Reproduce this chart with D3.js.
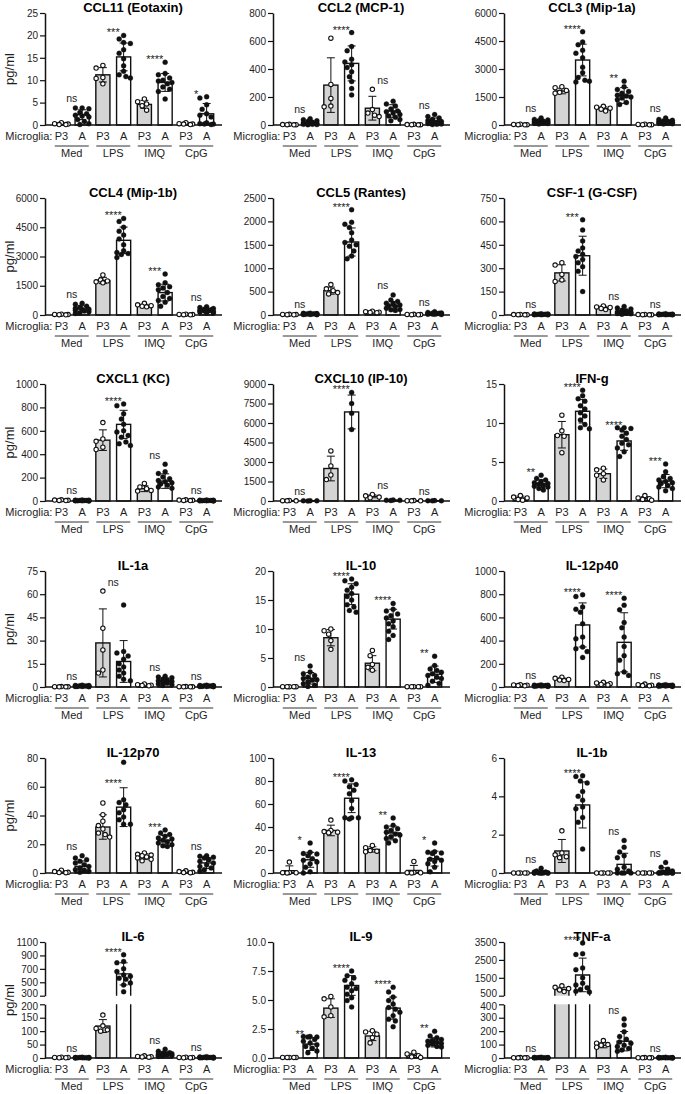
<!DOCTYPE html>
<html><head><meta charset="utf-8">
<script src="https://cdn.jsdelivr.net/npm/d3@7"></script>
<style>
body{margin:0;background:#fff;}
text{font-family:"Liberation Sans",Arial,sans-serif;}
</style></head><body>
<svg id="c" width="685" height="1094"></svg>
<script>
// ---------------- DATA ----------------
const groups = ["Med","LPS","IMQ","CpG"];
const cells = ["P3","A"];
const titles = ["CCL11 (Eotaxin)","CCL2 (MCP-1)","CCL3 (Mip-1a)","CCL4 (Mip-1b)","CCL5 (Rantes)","CSF-1 (G-CSF)",
  "CXCL1 (KC)","CXCL10 (IP-10)","IFN-g","IL-1a","IL-10","IL-12p40","IL-12p70","IL-13","IL-1b","IL-6","IL-9","TNF-a"];
const yTicks = [[0,5,10,15,20,25],[0,200,400,600,800],[0,1500,3000,4500,6000],[0,1500,3000,4500,6000],
  [0,500,1000,1500,2000,2500],[0,150,300,450,600,750],[0,200,400,600,800,1000],[0,1500,3000,4500,6000,7500,9000],
  [0,5,10,15],[0,15,30,45,60,75],[0,5,10,15,20],[0,200,400,600,800,1000],[0,20,40,60,80],[0,20,40,60,80,100],
  [0,2,4,6],[0,50,100,150,200],[0,2.5,5,7.5,10],[0,100,200,300,400]];
// upper segment ticks for broken axes (IL-6, TNF-a)
const yTicksUpper = {15:[300,500,700,900,1100], 17:[500,1500,2500,3500]};
const sigLabels = [["ns","***","****","*"],["ns","****","ns","ns"],["ns","****","**","ns"],["ns","****","***","ns"],
  ["ns","****","ns","ns"],["ns","***","ns","ns"],["ns","****","ns","ns"],["ns","****","ns","ns"],["**","****","****","***"],
  ["ns","ns","ns","ns"],["ns","****","****","**"],["ns","****","****","ns"],["ns","****","***","ns"],["*","****","**","*"],
  ["ns","****","ns","ns"],["ns","****","ns","ns"],["**","****","****","**"],["ns","****","ns","ns"]];
// label height (data units) where the label sits below an outlier: panel -> {group: value}
const sigAnchor = {12:{1:62}};
// bar means and SDs (order: Med P3, Med A, LPS P3, LPS A, IMQ P3, IMQ A, CpG P3, CpG A)
const means = [[0.25,2.3,11.2,15.2,4.6,9.5,0.3,2.5],[3,17,285,440,120,100,3,28],[20,180,1820,3480,880,1580,20,160],
  [25,310,1770,3830,480,1150,25,240],[10,22,520,1560,62,195,10,30],[2,4,270,380,47,22,2,4],[6,4,520,655,105,170,6,4],
  [22,14,2500,6850,360,57,19,19],[0.38,2.2,8.5,11.5,3.5,7.7,0.3,2.55],[0.2,0.6,28.5,16.5,1.3,3.8,0.2,0.6],
  [0.05,1.5,8.5,16,4.1,11.7,0.05,2.2],[15,11,65,535,28,385,16,12],[0.8,4.6,32,45.8,11.5,22.7,0.7,7],
  [2,11.5,37,65,20.5,34.8,2.2,12.5],[0,0.04,1.15,3.55,0,0.45,0,0.1],[2,1.2,119,625,5,15.5,2,2],
  [0.05,1.2,4.3,6.25,1.9,4.3,0.22,1.35],[2,2,850,1660,95,125,2,2]];
const sds = [[0.2,1.1,1.6,3.1,0.9,2.0,0.2,2.3],[2,14,195,125,85,45,2,22],[15,100,150,850,90,420,15,90],
  [15,160,160,680,70,430,15,100],[4,10,75,300,12,95,4,17],[1,2,52,125,9,15,1,2],[2,2,88,120,25,62,2,2],
  [13,8,950,1300,110,17,9,9],[0.25,0.5,1.7,1.5,0.6,1.2,0.25,0.85],[0.1,0.3,22,13.5,0.5,1.9,0.1,0.3],
  [0.02,1.0,1.4,1.8,1.3,1.7,0.02,1.4],[4,4,12,190,9,255,6,4],[0.7,3.8,8.5,13.5,1.9,3.4,0.6,3.8],
  [4.2,6.5,4.6,12.5,2.3,6,4.4,6.5],[0,0.08,0.6,1.2,0,0.58,0,0.17],[1,0.8,24,165,2,7.5,1,1.5],
  [0.02,0.55,0.8,0.85,0.4,0.95,0.18,0.4],[1,1.5,120,940,19,72,1,1.5]];
// individual points per panel
const ptsCCL11 = [[0.5,0.3,0.2,0.1,0.1],[3.8,3.8,3.6,2.8,2.5,2.2,2.0,1.8,1.2,0.8,0.3,0.1],[13.3,12.7,10.6,10.4,9.2],
  [20,19.2,18.4,18.2,16.8,16,14.8,13.2,12,11.2,10.8,10.5],[5.8,5.2,4.7,4.3,3.3],[14,11.5,11.2,10.5,10,9.8,9.5,9.2,8.5,8,7.5,5.8],
  [0.5,0.3,0.2,0.2,0.1],[6.3,6,4.5,3.5,2.5,2.2,1.8,0.5,0.3,0.2,0.2,0.1]];
const ptsCCL2 = [[5,3,2,2,1],[45,38,30,25,20,15,12,8,5,5,3,2],[620,290,190,135,130],
  [660,560,530,470,450,430,410,380,345,310,260,215],[255,110,85,70,60],[170,150,135,115,100,95,85,75,65,55,40,30],
  [5,3,2,2,1],[75,60,50,40,30,25,20,15,10,8,5,3]];
const ptsCCL3 = [[40,30,20,15,10],[380,300,270,230,200,180,160,140,120,100,80,60],[2050,2000,1850,1750,1700],
  [5000,4450,4300,4000,3850,3600,3100,2800,2550,2400,2350,2300],[1000,950,900,850,750],
  [2350,2050,1900,1800,1700,1600,1550,1500,1450,1350,1200,1100],[40,30,20,15,10],[380,300,250,220,200,170,150,130,110,90,70,50]];
const ptsCCL4 = [[40,30,20,15,10],[600,550,450,400,350,300,280,250,200,170,120,80],[2050,1800,1750,1700,1650],
  [4950,4800,4500,4300,4100,3900,3600,3300,3200,3150,3100,2950],[600,520,480,450,420],
  [2100,1650,1550,1450,1380,1300,1150,950,850,750,650,450],[40,30,20,15,10],[420,380,330,300,270,240,220,200,180,150,120,100]];
const ptsCCL5 = [[15,12,10,8,5],[40,35,30,28,25,22,20,18,15,12,10,8],[650,560,520,480,450],
  [2250,1980,1940,1870,1760,1600,1550,1500,1470,1370,1260,1200],[80,70,60,55,50],
  [430,320,290,250,240,215,195,180,145,120,110,95],[15,12,10,8,5],[70,55,45,40,35,30,28,25,20,18,15,10]];
const ptsCSF1 = [[4,3,2,2,1],[8,7,6,5,5,4,4,3,3,2,2,1],[335,320,260,225,215],
  [610,545,475,430,410,390,375,355,335,310,280,150],[58,52,48,42,35],[55,45,38,30,25,20,18,15,12,10,8,5],
  [4,3,2,2,1],[8,6,5,5,4,4,3,3,3,2,2,1]];
const ptsCXCL1 = [[10,8,6,5,4],[8,7,6,5,5,4,4,3,3,2,2,1],[670,530,510,460,440],
  [830,815,745,700,655,600,590,560,545,505,490,475],[150,120,105,90,85],[315,250,235,205,190,175,165,155,145,135,120,110],
  [10,8,6,5,4],[8,7,6,5,5,4,4,3,3,2,2,1]];
const ptsCXCL10 = [[40,25,15,10],[25,15,10,5],[3850,2700,2000,1650],[8350,7500,6750,5500],[500,400,300,250],
  [80,60,50,40],[30,20,15,10],[30,20,15,10]];
const ptsIFNg = [[0.7,0.5,0.4,0.2,0.1],[3.3,2.9,2.7,2.5,2.35,2.25,2.15,2.0,1.9,1.8,1.6,1.4],[11,9,8.4,8.3,6.2],
  [14.2,13.5,13.1,12.8,12.2,11.8,11.3,10.9,10.4,9.8,9.4,9.25],[4.2,4.0,3.5,3.3,2.7],
  [9.4,9.4,9.3,9.1,8.7,8.3,7.9,7.4,7.2,6.8,6.3,5.7],[0.7,0.4,0.3,0.2,0.1],[4.75,3.75,3.1,2.9,2.7,2.5,2.35,2.25,2.0,1.8,1.6,1.3]];
const ptsIL1a = [[0.3,0.2,0.1,0.1,0.1],[1.2,1.0,0.9,0.8,0.7,0.6,0.6,0.5,0.4,0.3,0.3,0.2],[62,38,24,11,9],
  [53,23,22,20,18,15,13,11,9,7,5,4],[2,1.5,1.2,1,0.8],[7,6.5,6,5,4.5,4,3.5,3,2.5,2,1.5,1],
  [0.3,0.2,0.1,0.1,0.1],[1.2,1.0,0.9,0.8,0.7,0.6,0.6,0.5,0.4,0.3,0.3,0.2]];
const ptsIL10 = [[0.05,0.05,0.05,0.05,0.05],[3.6,2.6,2.3,2.0,1.7,1.45,1.25,1.15,0.85,0.55,0.3,0.1],[10,9.7,9.1,8,6.5],
  [18.6,18.3,17.8,17.2,16.7,16.1,15.6,15.0,14.2,13.8,13.2,12.9],[6.3,5.4,3.9,3.4,2.9],
  [14.4,13.4,13.1,12.6,12.3,11.9,11.4,10.9,10.4,9.6,8.9,8.2],[0.05,0.05,0.05,0.05,0.05],
  [5.3,3.7,3.1,2.85,2.55,2.3,2.0,1.7,1.45,1.0,0.6,0.3]];
const ptsIL12p40 = [[20,18,15,12,10],[18,16,15,14,12,12,10,10,8,8,6,5],[85,75,65,60,55],
  [795,780,690,670,645,545,430,415,345,330,305,255],[40,35,28,22,18],[765,705,665,555,510,430,350,270,230,130,115,100],
  [25,20,15,12,10],[20,18,16,15,14,12,12,10,10,8,6,5]];
const ptsIL12p70 = [[2,1,0.5,0.3,0.2],[12,10.4,9.3,8.1,7,5.8,4.6,3.5,2.3,1.9,1.2,0.5],[48.7,40.6,36,33,30.6,27.8,26.7,25],
  [77,51,49,47.5,44,42,39,37,34,34],[13.9,13,12.5,12,11.2,10.5,9.5,8.5],
  [30,27.8,26.7,25.5,24.3,23.7,22.7,21.8,20.9,19.7,19,18.5],[1.5,1,0.5,0.3,0.2],[12,11.6,11,10.4,9.3,8.1,7,5.8,4.6,3.5,2.3,1.2]];
const ptsIL13 = [[9.5,0.5,0.3,0.2,0.1],[26,18,17,16.5,15,12.5,11,9.5,8,5,1,0],[46,37,36,35.5,35],
  [81,80,77,75,72,69,63,56,48,48,48,47],[24,22,19.5,19,18.5],[47.8,41.5,40,38.5,37,35.5,34,33,31.5,30,28,26],
  [10,0.5,0.3,0.2,0.1],[26,18.5,18,17.5,17,13,12,11,10,8,5,1]];
const ptsIL1b = [[0,0,0,0,0],[0.25,0.1,0.05,0.05,0,0,0,0,0,0,0,0],[2.2,1.05,0.95,0.85,0.8],
  [5.07,5.04,4.8,4.7,4.25,4.0,3.8,3.45,3.35,2.9,2.65,1.25],[0,0,0,0,0],[1.7,1.35,1.1,0.9,0.8,0.3,0.2,0.1,0,0,0,0],
  [0,0,0,0,0],[0.55,0.3,0.2,0.1,0.05,0,0,0,0,0,0,0]];
const ptsIL6 = [[3,2,2,1,1],[3,2,2,2,1,1,1,1,1,1,0,0],[160,120,110,105,100],
  [910,810,790,700,660,610,590,560,545,490,460,360],[8,6,5,4,3],[33,25,20,18,16,15,14,12,10,9,8,6],
  [3,2,2,1,1],[5,4,3,3,2,2,2,1,1,1,1,0]];
const ptsIL9 = [[0.05,0.05,0.05,0.05,0.05],[1.85,1.85,1.8,1.8,1.6,1.45,1.3,1.15,1.0,0.85,0.6,0.45],[5.3,5.1,4.4,3.65,3.55],
  [7.5,7.1,6.9,6.7,6.4,6.1,6.0,5.8,5.5,5.2,4.95,4.4],[2.35,2.25,2.05,1.75,1.3],
  [6.1,5.7,5.25,4.95,4.65,4.35,4.2,3.95,3.65,3.35,3.2,2.7],[0.5,0.35,0.2,0.1,0.05],
  [2.3,1.9,1.75,1.6,1.5,1.45,1.35,1.25,1.2,1.1,1.0,0.95]];
const ptsTNFa = [[3,2,2,1,1],[5,4,3,3,2,2,2,1,1,1,1,0],[1050,970,900,820,730],
  [3450,2850,2800,2050,1950,1500,1200,1100,950,850,750,700],[130,110,100,95,80],[290,245,195,160,140,120,110,95,85,70,60,50],
  [3,2,2,1,1],[5,4,3,3,2,2,2,1,1,1,1,0]];
const allPts = [ptsCCL11,ptsCCL2,ptsCCL3,ptsCCL4,ptsCCL5,ptsCSF1,ptsCXCL1,ptsCXCL10,ptsIFNg,ptsIL1a,ptsIL10,
  ptsIL12p40,ptsIL12p70,ptsIL13,ptsIL1b,ptsIL6,ptsIL9,ptsTNFa];

// ---------------- LAYOUT ----------------
const svg = d3.select("#c");
const colX = [45,273,504];
const rowTop = [13,198,384,571,758,942];
const rowBase = [125,315,501,687,873,1058];
const keys = [];
groups.forEach(g=>cells.forEach(c=>keys.push(g+"|"+c)));
const txt = "#1e1e1e";

function swarm(ys, r, maxOff){
  const order = ys.map((y,i)=>i).sort((a,b)=>ys[a]-ys[b]);
  const placed=[], xs=new Array(ys.length), d=2*r+0.3;
  const cands=[0]; for(let k=1;k<=8;k++){cands.push(-k*r*0.9, k*r*0.9);}
  order.forEach(i=>{
    const y=ys[i]; let best=0,bestO=Infinity;
    for(const c of cands){
      if(Math.abs(c)>maxOff) continue;
      let ov=0; for(const p of placed){const dd=Math.hypot(p.x-c,p.y-y); if(dd<d) ov+=d-dd;}
      if(ov===0){best=c;bestO=0;break;}
      if(ov<bestO-1e-9){bestO=ov;best=c;}
    }
    xs[i]=best; placed.push({x:best,y});
  });
  return xs;
}

titles.forEach((title,i)=>{
  const col=i%3,row=Math.floor(i/3);
  const ax=colX[col], y0=rowBase[row], yT=rowTop[row];
  const g=svg.append("g");
  const x=d3.scaleBand().domain(keys).range([ax+6,ax+172]).paddingInner(0.32).paddingOuter(0.16);
  const bw=x.bandwidth();
  const lo=yTicks[i], hi=yTicksUpper[i];
  let yf, scales=[];
  let loScale, hiScale;
  if(hi){
    const seg=(y0-yT-8.6)/2;
    loScale=d3.scaleLinear().domain([lo[0],lo[lo.length-1]]).range([y0,y0-seg]);
    hiScale=d3.scaleLinear().domain([hi[0],hi[hi.length-1]]).range([yT+seg,yT]);
    const loMax=lo[lo.length-1], hiMin=hi[0];
    yf=v=> v<=loMax? loScale(v) : (v>=hiMin? hiScale(v) : (loScale(loMax)+hiScale(hiMin))/2);
    scales=[[loScale,lo,"lo"],[hiScale,hi,"hi"]];
  } else {
    loScale=d3.scaleLinear().domain([lo[0],lo[lo.length-1]]).range([y0,yT]);
    yf=v=>loScale(v);
    scales=[[loScale,lo,""]];
  }
  const fmt = i===16 ? d3.format(".1f") : d3.format("d");
  scales.forEach(([s,t,part])=>{
    const a=g.append("g").attr("transform",`translate(${ax},0)`)
      .call(d3.axisLeft(s).tickValues(t).tickSize(5).tickSizeOuter(0).tickPadding(2).tickFormat(fmt));
    a.select(".domain").attr("stroke","#111").attr("stroke-width",1.5);
    a.selectAll(".tick line").attr("stroke","#111").attr("stroke-width",1.2);
    const tt=a.selectAll(".tick text").attr("fill",txt).style("font-size","10px").style("font-family","'Liberation Sans',Arial,sans-serif");
    // nudge the two labels facing the break apart
    if(part==="lo") tt.filter(d=>d===t[t.length-1]).attr("dy","0.5em");
    if(part==="hi") tt.filter(d=>d===t[0]).attr("dy","0.12em");
  });

  // bars
  const m=means[i], sd=sds[i], pts=allPts[i];
  keys.forEach((k,j)=>{
    const isP3=j%2===0, fill=isP3?"#d4d4d4":"#ffffff";
    const bx=x(k), v=m[j];
    if(hi && v>lo[lo.length-1]){
      const yLt=loScale(lo[lo.length-1]), yHb=hiScale(hi[0]), yTop=hiScale(v);
      g.append("rect").attr("x",bx).attr("y",yLt).attr("width",bw).attr("height",y0-yLt).attr("fill",fill);
      g.append("rect").attr("x",bx).attr("y",yTop).attr("width",bw).attr("height",yHb-yTop).attr("fill",fill);
      g.append("path").attr("d",`M${bx},${y0}V${yLt}M${bx+bw},${y0}V${yLt}M${bx},${yHb}V${yTop}H${bx+bw}V${yHb}`)
        .attr("fill","none").attr("stroke","#111").attr("stroke-width",1.4);
    } else {
      g.append("rect").attr("x",bx).attr("y",yf(v)).attr("width",bw).attr("height",Math.max(0,y0-yf(v)))
        .attr("fill",fill).attr("stroke","#111").attr("stroke-width",1.4);
    }
  });
  // x axis line
  g.append("line").attr("x1",ax).attr("x2",ax+177).attr("y1",y0).attr("y2",y0).attr("stroke","#111").attr("stroke-width",1.5);

  // error bars
  keys.forEach((k,j)=>{
    const cx=x(k)+bw/2, v=m[j], s=sd[j];
    if(s<=0) return;
    const yt=yf(v+s), yb=yf(Math.max(0,v-s));
    g.append("path").attr("d",`M${cx},${yb}V${yt}M${cx-4},${yt}H${cx+4}`+(v-s>0?`M${cx-4},${yb}H${cx+4}`:""))
      .attr("stroke","#111").attr("stroke-width",1).attr("fill","none");
  });
  // points
  const r=2.5;
  keys.forEach((k,j)=>{
    const cx=x(k)+bw/2, isP3=j%2===0;
    const ys=pts[j].map(v=>yf(v));
    const xs=swarm(ys,r,8);
    g.selectAll(null).data(pts[j]).enter().append("circle")
      .attr("cx",(d,n)=>cx+xs[n]).attr("cy",(d,n)=>ys[n]).attr("r",isP3?2.2:2.5)
      .attr("fill",isP3?"#fff":"#111").attr("stroke","#111").attr("stroke-width",isP3?1.1:0.3);
  });
  // significance labels
  groups.forEach((gr,q)=>{
    const k1=keys[2*q], k2=keys[2*q+1];
    const cx=(x(k1)+x(k2)+bw)/2;
    let top=Infinity;
    if(sigAnchor[i] && sigAnchor[i][q]!==undefined){ top=yf(sigAnchor[i][q]); }
    else {
      [2*q,2*q+1].forEach(j=>{
        pts[j].forEach(v=>{top=Math.min(top,yf(v)-r);});
        top=Math.min(top,yf(m[j]+sd[j]));
      });
    }
    const lab=sigLabels[i][q];
    g.append("text").attr("x",cx).attr("y",lab==="ns"? top-3 : top+3.5).attr("text-anchor","middle")
      .attr("fill","#222").style("font-size",lab==="ns"?"10.5px":"11px").text(lab);
  });
  // title
  g.append("text").attr("x",ax+88).attr("y",yT-1).attr("text-anchor","middle").attr("fill","#000")
    .style("font-size","13px").style("font-weight","bold").text(title);
  // y label
  if(col===0){
    g.append("text").attr("transform",`translate(14,${(y0+yT)/2}) rotate(-90)`).attr("text-anchor","middle")
      .attr("fill",txt).style("font-size","13px").text("pg/ml");
  }
  // bottom labels
  g.append("text").attr("x",x(keys[0])+bw/2-9).attr("y",y0+15).attr("text-anchor","end").attr("fill",txt)
    .style("font-size","11px").text("Microglia:");
  keys.forEach((k,j)=>{
    g.append("text").attr("x",x(k)+bw/2).attr("y",y0+15).attr("text-anchor","middle").attr("fill",txt)
      .style("font-size","11px").text(cells[j%2]);
  });
  groups.forEach((gr,q)=>{
    const cx=(x(keys[2*q])+x(keys[2*q+1])+bw)/2;
    g.append("line").attr("x1",cx-17).attr("x2",cx+17).attr("y1",y0+21).attr("y2",y0+21)
      .attr("stroke","#333").attr("stroke-width",1);
    g.append("text").attr("x",cx).attr("y",y0+32).attr("text-anchor","middle").attr("fill",txt)
      .style("font-size","11px").text(gr);
  });
});
</script>
</body></html>
